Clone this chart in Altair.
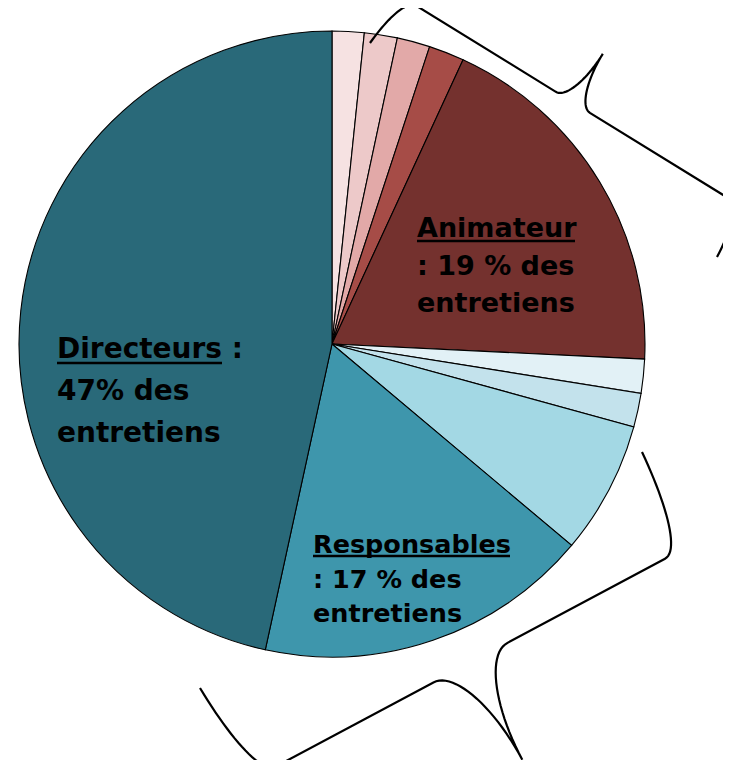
import altair as alt
import numpy as np
import pandas as pd

# ---------------- data ----------------
categories = ["Rose 1", "Rose 2", "Rose 3", "Rose 4", "Animateur",
              "Bleu 1", "Bleu 2", "Bleu 3", "Responsables", "Directeurs"]
shares = [1.65, 1.70, 1.70, 1.83, 18.9, 1.75, 1.75, 6.86, 17.3, 46.6]
colors = ["#F6E2E2", "#EDC9C9", "#E2A9A8", "#A64C47", "#74312E",
          "#E2F1F6", "#C3E2EC", "#A3D8E4", "#3E96AC", "#296979"]

label_heads = ["Directeurs", "Animateur", "Responsables"]
label_lines = [
    ["Directeurs :", "47% des", "entretiens"],
    ["Animateur", ": 19 % des", "entretiens"],
    ["Responsables", ": 17 % des", "entretiens"],
]

# ---------------- layout (screen pixels) ----------------
W, H = 715, 752
CX, CY, R = 332, 344, 313
label_layout = [  # x, first baseline, line height, font size, underline (x1, x2, y)
    dict(x=57, y=358, lh=42, fs=28, ul=(57, 222, 363)),
    dict(x=417, y=237, lh=37.5, fs=27, ul=(417, 575, 241)),
    dict(x=313, y=553, lh=34.5, fs=25.5, ul=(313, 510, 556)),
]
braces = [  # endpoint A, endpoint B, band, tip height, hook width, neck width
    dict(a=(370, 43), b=(717, 257), band=56, tip=113, hook=20, neck=20),
    dict(a=(642, 452), b=(200, 688), band=105, tip=215, hook=30, neck=42),
]


def cubic(p0, p1, p2, p3, n=24):
    t = np.linspace(0, 1, n)[:, None]
    p0, p1, p2, p3 = map(np.asarray, (p0, p1, p2, p3))
    return ((1 - t) ** 3) * p0 + 3 * ((1 - t) ** 2) * t * p1 + 3 * (1 - t) * t ** 2 * p2 + t ** 3 * p3


def brace_points(spec):
    A = np.array(spec["a"], float)
    B = np.array(spec["b"], float)
    L = np.linalg.norm(B - A)
    U = (B - A) / L
    N = np.array([U[1], -U[0]])
    b, tip, hook, neck = spec["band"], spec["tip"], spec["hook"], spec["neck"]
    m = L / 2
    half = np.vstack([
        cubic((0, 0), (0.1 * hook, 0.55 * b), (0.45 * hook, b), (hook, b)),
        cubic((m - neck, b), (m - 0.45 * neck, b), (m, b + 0.45 * (tip - b)), (m, tip)),
    ])
    other = half[::-1].copy()
    other[:, 0] = L - other[:, 0]
    local = np.vstack([half, other[1:]])
    return A + local[:, :1] * U + local[:, 1:] * N


# ---------------- tables ----------------
pie_df = pd.DataFrame({"cat": categories, "share": shares, "idx": range(len(categories))})

rows = []
for bi, spec in enumerate(braces):
    pts = brace_points(spec)
    for k, (px, py) in enumerate(pts):
        rows.append({"brace": bi, "k": k, "px": px, "py": py})
brace_df = pd.DataFrame(rows)

xs = alt.Scale(domain=[8, 8 + W], nice=False, zero=False)
ys = alt.Scale(domain=[8, 8 + H], nice=False, zero=False, reverse=True)

pie = alt.Chart(pie_df).mark_arc(outerRadius=R, stroke="black", strokeWidth=1.1).encode(
    theta=alt.Theta("share:Q", stack=True),
    order=alt.Order("idx:Q", sort="ascending"),
    color=alt.Color("cat:N", scale=alt.Scale(domain=categories, range=colors), legend=None),
    x=alt.value(CX - 8),
    y=alt.value(CY - 8),
)

brace_layer = alt.Chart(brace_df).mark_line(color="black", strokeWidth=2.2).encode(
    x=alt.X("px:Q", scale=xs, axis=None),
    y=alt.Y("py:Q", scale=ys, axis=None),
    detail="brace:N",
    order="k:Q",
)

layers = [pie, brace_layer]
for head, lines, lay in zip(label_heads, label_lines, label_layout):
    tdf = pd.DataFrame({
        "t": lines,
        "px": [lay["x"]] * len(lines),
        "py": [lay["y"] + i * lay["lh"] for i in range(len(lines))],
    })
    layers.append(
        alt.Chart(tdf).mark_text(align="left", baseline="alphabetic", font="DejaVu Sans",
                                 fontWeight="bold", fontSize=lay["fs"], color="black").encode(
            x=alt.X("px:Q", scale=xs, axis=None),
            y=alt.Y("py:Q", scale=ys, axis=None),
            text="t:N",
        )
    )
    x1, x2, uy = lay["ul"]
    udf = pd.DataFrame({"x1": [x1], "x2": [x2], "uy": [uy], "name": [head]})
    layers.append(
        alt.Chart(udf).mark_rule(color="black", strokeWidth=2.5).encode(
            x=alt.X("x1:Q", scale=xs, axis=None),
            x2="x2:Q",
            y=alt.Y("uy:Q", scale=ys, axis=None),
        )
    )

chart = alt.layer(*layers).properties(
    width=W, height=H, autosize="none",
    padding={"left": 0, "top": 0, "right": 0, "bottom": 0},
    background="white",
).configure_view(stroke=None)

chart.save("out.html", embed_options={"renderer": "svg", "actions": False})
